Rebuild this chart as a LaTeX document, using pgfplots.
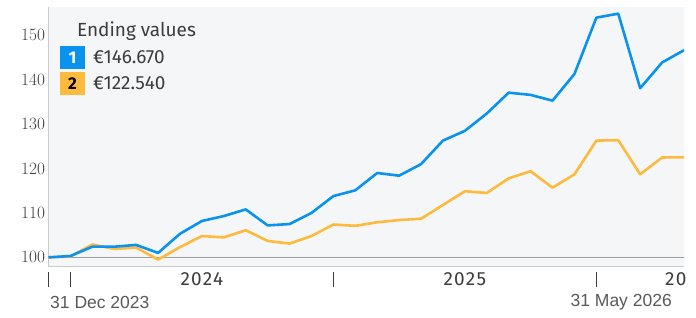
\documentclass[border=0pt]{standalone}
\usepackage{fontspec}
\setmainfont{Fira Sans}
\newfontfamily\datefont{Liberation Sans}
\newfontfamily\yearfont{Fira Sans}[LetterSpace=7]
\usepackage{pgfplots}
\pgfplotsset{compat=1.18}
\definecolor{bblue}{HTML}{0A93EE}
\definecolor{borange}{HTML}{FDBA3D}
\definecolor{bg}{HTML}{F5F6F8}
\definecolor{txt}{HTML}{3C3C3C}
\definecolor{axgray}{HTML}{C8CACD}

\pgfplotstableread{
i blue orange
0 100.0 100.0
1 100.3 100.2
2 102.4 102.9
3 102.4 101.9
4 102.8 102.2
5 101.0 99.5
6 105.3 102.3
7 108.2 104.8
8 109.3 104.5
9 110.8 106.1
10 107.2 103.7
11 107.5 103.1
12 110.0 104.8
13 113.8 107.4
14 115.1 107.1
15 119.0 107.9
16 118.4 108.4
17 121.0 108.7
18 126.3 111.8
19 128.5 114.9
20 132.4 114.5
21 137.1 117.8
22 136.6 119.4
23 135.3 115.7
24 141.3 118.7
25 154.0 126.3
26 154.9 126.4
27 138.1 118.7
28 143.9 122.5
29 146.67 122.54
}\datatable

\begin{document}
\begin{tikzpicture}[x=1pt,y=1pt]
\path[use as bounding box] (-48.5,-51) rectangle (647.5,266);
\begin{axis}[
  at={(0,0)}, anchor=south west,
  scale only axis, width=635.5pt, height=259pt,
  xmin=0, xmax=29, ymin=98.05, ymax=156.4,
  axis background/.style={fill=bg},
  axis lines=left,
  axis line style={draw=axgray, line width=1pt, -},
  xtick=\empty,
  ytick={100,110,120,130,140,150},
  major tick length=0pt,
  yticklabel style={font=\fontsize{17}{17}\selectfont, text=txt},
]
\addplot[draw=gray!75, line width=1pt, forget plot] coordinates {(0,100) (29,100)};
\addplot[draw=borange, line width=2.6pt, line join=round] table[x=i, y=orange] {\datatable};
\addplot[draw=bblue, line width=2.6pt, line join=round] table[x=i, y=blue] {\datatable};
\end{axis}
% legend
\node[anchor=center, text=txt, font=\fontsize{19}{19}\selectfont] at (88,235) {Ending values};
\node[fill=bblue, minimum width=25pt, minimum height=23pt, inner sep=0pt, text=white, font=\fontsize{17}{17}\selectfont\bfseries] at (24,208.5) {1};
\node[fill=borange, minimum width=25pt, minimum height=23pt, inner sep=0pt, text=black, font=\fontsize{17}{17}\selectfont\bfseries] at (24,182.5) {2};
\node[anchor=west, text=txt, font=\fontsize{19}{19}\selectfont, inner sep=0pt] at (44.5,208.5) {€146.670};
\node[anchor=west, text=txt, font=\fontsize{19}{19}\selectfont, inner sep=0pt] at (44.5,182.5) {€122.540};
% x axis decorations
\foreach \xx in {0,1,13,25} {
  \draw[txt, line width=1.4pt] (\xx*21.914,-6) -- (\xx*21.914,-21);
}
\node[text=txt, font=\yearfont\fontsize{19}{19}\selectfont] at (7*21.914,-13.5) {2024};
\node[text=txt, font=\yearfont\fontsize{19}{19}\selectfont] at (19*21.914,-13.5) {2025};
\node[text=txt, font=\yearfont\fontsize{19}{19}\selectfont, anchor=west, inner sep=0pt] at (616.5,-13.5) {20};
\node[text=txt!85, font=\datefont\fontsize{17.5}{17.5}\selectfont, anchor=west, inner sep=0pt] at (1.5,-36) {31 Dec 2023};
\node[text=txt!85, font=\datefont\fontsize{17.5}{17.5}\selectfont, anchor=east, inner sep=0pt] at (623.5,-36) {31 May 2026};
\end{tikzpicture}
\end{document}
